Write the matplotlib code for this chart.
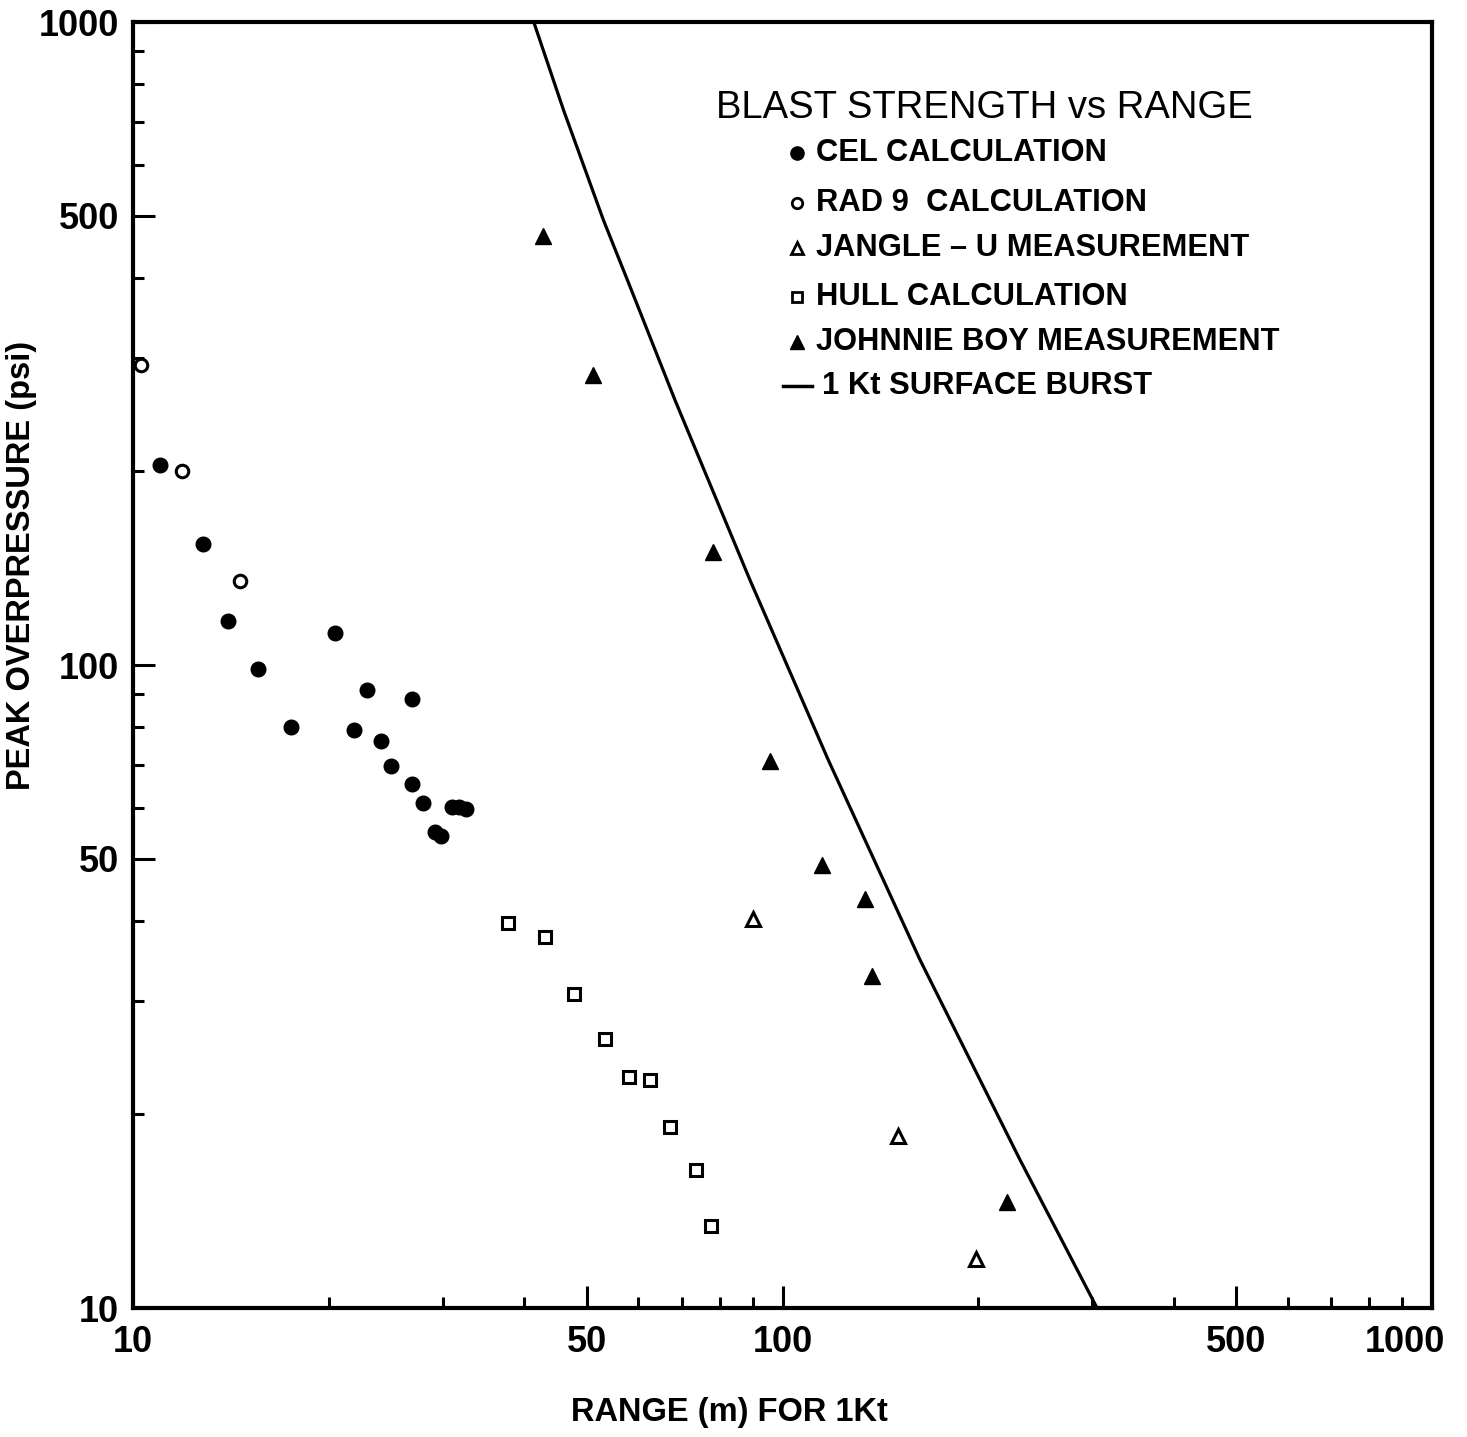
import matplotlib
matplotlib.use("Agg")
import matplotlib.pyplot as plt
from matplotlib.ticker import FixedLocator, FixedFormatter, NullFormatter
from matplotlib.transforms import blended_transform_factory, ScaledTranslation

# ---------------- data ----------------
cel_x = [11.0, 12.8, 14.0, 15.6, 17.5, 20.5, 21.9, 22.9, 24.1, 25.0, 26.9, 26.9,
         28.0, 29.2, 29.8, 31.0, 31.8, 32.6]
cel_y = [205, 154, 117, 98.6, 80.1, 112, 79.2, 91.4, 76.2, 69.7, 88.6, 65.3,
         61.0, 55.0, 54.2, 60.1, 60.1, 59.7]

rad9_x = [10.3, 11.9, 14.6]
rad9_y = [293, 200, 135]

jangle_x = [90.1, 150.6, 198.6]
jangle_y = [40.3, 18.5, 11.9]

hull_x = [37.8, 43.1, 47.8, 53.3, 58.0, 62.5, 67.1, 73.6, 77.6]
hull_y = [39.7, 37.8, 30.8, 26.2, 22.9, 22.6, 19.1, 16.4, 13.4]

jb_x = [42.8, 51.1, 78.2, 95.7, 115.0, 134.0, 137.3, 221.6]
jb_y = [465, 282, 150, 70.9, 48.9, 43.3, 32.8, 14.6]

burst_x = [41.4, 46.0, 53.0, 58.25, 68.3, 89.1, 117.6, 162.8, 232.1, 305.0]
burst_y = [1000, 730, 492, 387.6, 258.3, 135.6, 71.2, 34.8, 17.0, 10.0]

major_ticks = [10, 50, 100, 500, 1000]
y_labels = ["10", "50", "100", "500", "1000"]
x_labels = ["10", "50", "100", "500", ""]
x_last_label = "1000"
minor_ticks = [20, 30, 40, 60, 70, 80, 90, 200, 300, 400, 600, 700, 800, 900]

title = "BLAST STRENGTH vs RANGE"
legend_labels = ["CEL CALCULATION", "RAD 9  CALCULATION", "JANGLE – U MEASUREMENT",
                 "HULL CALCULATION", "JOHNNIE BOY MEASUREMENT", "1 Kt SURFACE BURST"]
ylabel = "PEAK OVERPRESSURE (psi)"
xlabel = "RANGE (m) FOR 1Kt"

# ---------------- figure ----------------
plt.rcParams['font.family'] = ['Liberation Sans', 'DejaVu Sans']
W, H = 1467, 1437
fig = plt.figure(figsize=(W / 100, H / 100), dpi=100)
ax = fig.add_axes([133 / W, 1 - 1308 / H, (1432 - 133) / W, (1308 - 22) / H])

ax.set_xscale('log')
ax.set_yscale('log')
ax.set_xlim(10, 1000)
ax.set_ylim(10, 1000)

ax.plot(burst_x, burst_y, color='black', lw=2.3, solid_joinstyle='round', zorder=2)
ax.plot(cel_x, cel_y, 'o', color='black', ms=10.5, zorder=3)
ax.plot(rad9_x, rad9_y, 'o', mfc='white', mec='black', mew=2.2, ms=9, zorder=3)
ax.plot(jangle_x, jangle_y, '^', mfc='white', mec='black', mew=2.2, ms=9.5, zorder=3)
ax.plot(hull_x, hull_y, 's', mfc='white', mec='black', mew=2.2, ms=8, zorder=3)
ax.plot(jb_x, jb_y, '^', color='black', ms=11, zorder=3)

ax.xaxis.set_major_locator(FixedLocator(major_ticks))
ax.xaxis.set_major_formatter(FixedFormatter(x_labels))
ax.yaxis.set_major_locator(FixedLocator(major_ticks))
ax.yaxis.set_major_formatter(FixedFormatter(y_labels))
for axis in (ax.xaxis, ax.yaxis):
    axis.set_minor_locator(FixedLocator(minor_ticks))
    axis.set_minor_formatter(NullFormatter())

ax.tick_params(which='both', direction='in', top=False, right=False, width=2.2, color='black')
ax.tick_params(which='major', length=16)
ax.tick_params(which='minor', length=8)
ax.tick_params(axis='y', which='major', pad=10, labelsize=26)
ax.tick_params(axis='x', which='major', pad=12, labelsize=26)
for lab in ax.get_xticklabels() + ax.get_yticklabels():
    lab.set_fontweight('bold')

# last x tick label sits slightly left of the corner, as in the reference
trans = blended_transform_factory(ax.transData, ax.transAxes) + \
    ScaledTranslation(-0.27, -12 / 72, fig.dpi_scale_trans)
ax.text(1000, 0, x_last_label, transform=trans, fontsize=26, fontweight='bold',
        ha='center', va='top')

for sp in ax.spines.values():
    sp.set_linewidth(3)

fig.text(22 / W, 1 - 565 / H, ylabel, rotation=90, fontsize=23.5, fontweight='bold',
         ha='center', va='center')
fig.text(729 / W, 1 - 1413 / H, xlabel, fontsize=23.5, fontweight='bold',
         ha='center', va='center')

# ---------------- legend (manual) ----------------
def fx(px):
    return (px - 133) / 1299

def fy(py):
    return (1308 - py) / 1286

ax.text(fx(716), fy(108), title, transform=ax.transAxes, fontsize=27.5,
        ha='left', va='center')

rows_y = [153, 203, 248, 297, 342, 386]
mk_x = fx(797)
txt_x = fx(816)
styles = [
    dict(marker='o', color='black', ms=9.5, ls='none'),
    dict(marker='o', mfc='white', mec='black', mew=2, ms=7.5, ls='none'),
    dict(marker='^', mfc='white', mec='black', mew=2, ms=8, ls='none'),
    dict(marker='s', mfc='white', mec='black', mew=2, ms=7, ls='none'),
    dict(marker='^', color='black', ms=9.5, ls='none'),
]
for i, (label, py) in enumerate(zip(legend_labels, rows_y)):
    if i < 5:
        ax.plot([mk_x], [fy(py)], transform=ax.transAxes, clip_on=False, **styles[i])
        ax.text(txt_x, fy(py), label, transform=ax.transAxes, fontsize=22.2,
                fontweight='bold', ha='left', va='center')
    else:
        ax.plot([fx(783), fx(812)], [fy(py), fy(py)], transform=ax.transAxes,
                color='black', lw=2.5)
        ax.text(fx(822), fy(py), label, transform=ax.transAxes, fontsize=22.2,
                fontweight='bold', ha='left', va='center')

fig.savefig("out.png", dpi=100)
